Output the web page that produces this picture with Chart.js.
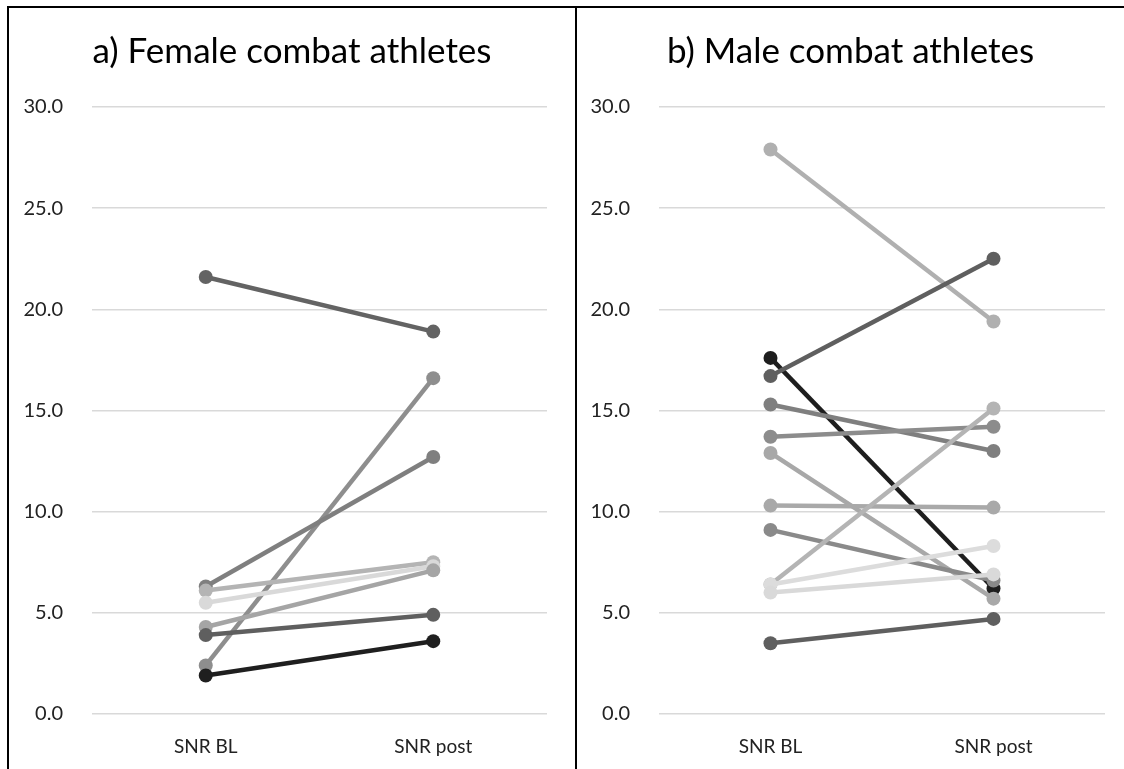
<!DOCTYPE html>
<html><head><meta charset="utf-8">
<script src="https://cdn.jsdelivr.net/npm/chart.js@4"></script>
<style>
html,body{margin:0;padding:0;background:#fff;width:1124px;height:769px;overflow:hidden}
#frame{position:absolute;left:7px;top:6px;width:1140px;height:800px;border-top:2px solid #000;border-left:2px solid #000}
#divider{position:absolute;left:575px;top:6px;width:2px;height:800px;background:#000}
#w1{position:absolute;left:9px;top:8px;width:566px;height:761px}
#w2{position:absolute;left:577px;top:8px;width:547px;height:761px}
</style></head>
<body>
<div id="frame"></div><div id="divider"></div>
<div id="w1"><canvas id="c1" width="566" height="761"></canvas></div>
<div id="w2"><canvas id="c2" width="547" height="761"></canvas></div>
<script>
const categories = ['SNR BL', 'SNR post'];
const yTicks = [0, 5, 10, 15, 20, 25, 30];

const femaleTitle = 'a) Female combat athletes';
const femaleBL   = [1.9, 3.9, 4.3, 5.5, 6.1, 6.3, 2.4, 21.6];
const femalePost = [3.6, 4.9, 7.1, 7.3, 7.5, 12.7, 16.6, 18.9];
const femaleColors = ['#1f1f1f', '#5f5f5f', '#a5a5a5', '#d9d9d9', '#b4b4b4', '#7f7f7f', '#8e8e8e', '#636363'];

const maleTitle = 'b) Male combat athletes';
const maleBL   = [3.5, 6.0, 6.4, 6.4, 9.1, 10.3, 12.9, 13.7, 15.3, 16.7, 17.6, 27.9];
const malePost = [4.7, 6.9, 8.3, 15.1, 6.6, 10.2, 5.7, 14.2, 13.0, 22.5, 6.2, 19.4];
const maleColors = ['#5f5f5f', '#d9d9d9', '#dcdcdc', '#b4b4b4', '#8a8a8a', '#a9a9a9', '#a8a8a8', '#8c8c8c', '#7f7f7f', '#5f5f5f', '#1e1e1e', '#b0b0b0'];

const FONT = "Lato, 'Open Sans', sans-serif";

function makeChart(id, title, bl, post, colors, yWidth, rightWidth) {
  const datasets = bl.map((v, i) => ({
    data: [v, post[i]],
    borderColor: colors[i],
    backgroundColor: colors[i],
    borderWidth: 4.5,
    pointRadius: 7,
    pointHoverRadius: 7,
    pointBorderWidth: 0,
    tension: 0,
    yAxisID: 'y'
  }));
  return new Chart(document.getElementById(id), {
    type: 'line',
    data: { labels: categories, datasets },
    options: {
      responsive: false,
      devicePixelRatio: 1,
      animation: false,
      layout: { padding: 0 },
      plugins: {
        legend: { display: false },
        tooltip: { enabled: false },
        title: {
          display: true, text: title, color: '#000',
          font: { family: FONT, size: 35, weight: 'normal', lineHeight: 1.2 },
          padding: { top: 23, bottom: 34 }
        }
      },
      scales: {
        x: {
          offset: true,
          grid: { display: false },
          border: { display: false },
          ticks: { color: '#222', font: { family: FONT, size: 19 }, padding: 13 },
          afterFit: s => { s.height = 55; }
        },
        y: {
          position: 'left',
          min: 0, max: 30,
          afterBuildTicks: s => { s.ticks = yTicks.map(v => ({ value: v })); },
          ticks: { color: '#222', font: { family: FONT, size: 20 }, padding: 29,
                   callback: v => Number(v).toFixed(1) },
          grid: { color: '#d9d9d9', lineWidth: 1.5, drawTicks: false },
          border: { display: false },
          afterFit: s => { s.width = yWidth; }
        },
        yRightSpace: {
          position: 'right',
          display: true,
          grid: { display: false, drawTicks: false },
          border: { display: false },
          ticks: { display: false },
          afterFit: s => { s.width = rightWidth; }
        }
      }
    }
  });
}

makeChart('c1', femaleTitle, femaleBL, femalePost, femaleColors, 83, 28);
makeChart('c2', maleTitle, maleBL, malePost, maleColors, 82, 19);
</script>
</body></html>
